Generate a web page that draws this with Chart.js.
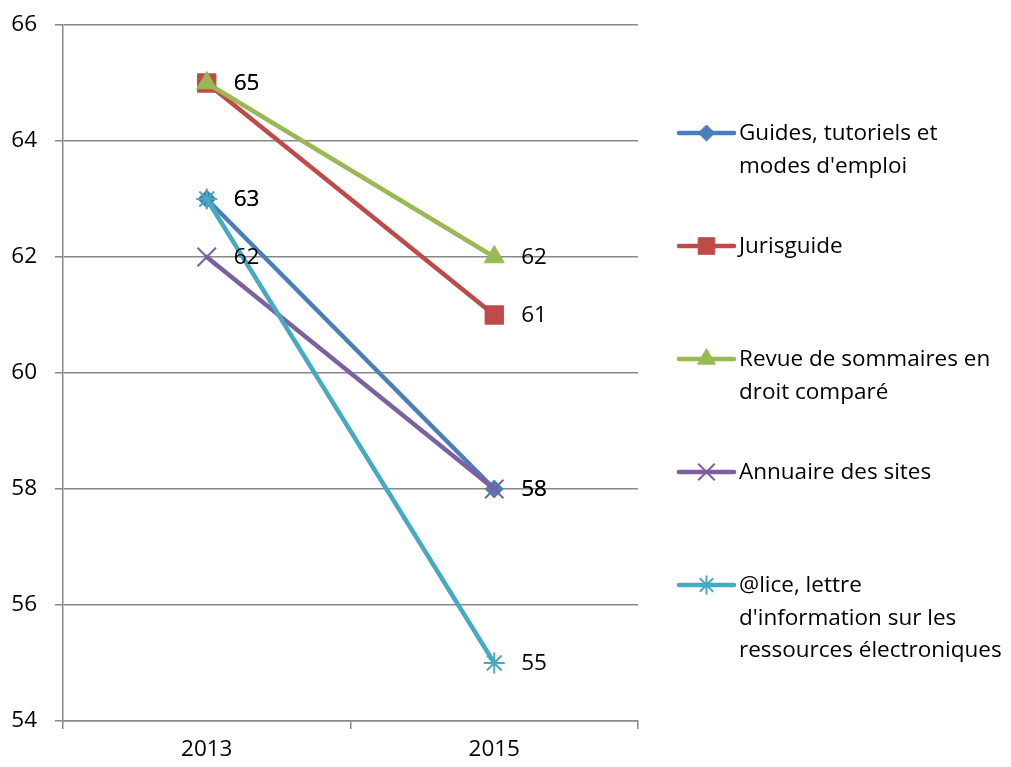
<!DOCTYPE html>
<html>
<head>
<meta charset="utf-8">
<script src="https://cdn.jsdelivr.net/npm/chart.js@4"></script>
<style>
  html, body { margin: 0; padding: 0; background: #fff; }
  #wrap { position: relative; width: 1011px; height: 767px; }
</style>
</head>
<body>
<div id="wrap">
  <canvas id="canvas" width="1011" height="767"></canvas>
</div>
<script>
// categories and series
const years = ['2013', '2015'];
const seriesNames = [
  ['Guides, tutoriels et', "modes d'emploi"],
  ['Jurisguide'],
  ['Revue de sommaires en', 'droit comparé'],
  ['Annuaire des sites'],
  ['@lice, lettre', "d'information sur les", 'ressources électroniques']
];
const guidesValues = [63, 58];
const jurisguideValues = [65, 61];
const revueValues = [65, 62];
const annuaireValues = [62, 58];
const aliceValues = [63, 55];
const yTicks = [54, 56, 58, 60, 62, 64, 66];

const FONT = '"Open Sans", Lato, sans-serif';
const FONT_SIZE = 22.5;
const TEXT = '#000';

const seriesValues = [guidesValues, jurisguideValues, revueValues, annuaireValues, aliceValues];
const seriesColors = ['#4A7EBB', '#BE4B48', '#98B954', '#7D60A0', '#46AAC5'];
const seriesMarkers = [
  {style: 'rectRot', radius: 9, border: 1},
  {style: 'rect', radius: 13, border: 1},
  {style: 'triangle', radius: 11.5, border: 1},
  {style: 'crossRot', radius: 13, border: 2},
  {style: 'star', radius: 10.5, border: 2}
];

const datasets = seriesValues.map((vals, i) => ({
  label: seriesNames[i].join(' '),
  data: vals,
  order: -i,
  borderColor: seriesColors[i],
  backgroundColor: seriesColors[i],
  borderWidth: 4.5,
  borderCapStyle: 'round',
  borderJoinStyle: 'round',
  pointStyle: seriesMarkers[i].style,
  pointRadius: seriesMarkers[i].radius,
  pointBorderWidth: seriesMarkers[i].border,
  pointBackgroundColor: seriesColors[i],
  pointBorderColor: seriesColors[i]
}));

// value printed to the right of every point
const valueLabels = {
  id: 'valueLabels',
  afterDatasetsDraw(chart) {
    const ctx = chart.ctx;
    ctx.save();
    ctx.font = FONT_SIZE + 'px ' + FONT;
    ctx.fillStyle = TEXT;
    ctx.textAlign = 'left';
    ctx.textBaseline = 'middle';
    chart.data.datasets.forEach((ds, di) => {
      chart.getDatasetMeta(di).data.forEach((pt, i) => {
        ctx.fillText(String(ds.data[i]), pt.x + 27, pt.y + 1);
      });
    });
    ctx.restore();
  }
};

// legend on the right, wrapped names, line + marker swatch
const sideLegend = {
  id: 'sideLegend',
  afterDraw(chart) {
    const ctx = chart.ctx;
    const x0 = 679, x1 = 734, textX = 739;
    const firstY = 133, step = 113, lineH = 32.5;
    ctx.save();
    chart.data.datasets.forEach((ds, i) => {
      const y = firstY + i * step;
      ctx.strokeStyle = ds.borderColor;
      ctx.lineWidth = 4.5;
      ctx.lineCap = 'round';
      ctx.beginPath();
      ctx.moveTo(x0, y);
      ctx.lineTo(x1, y);
      ctx.stroke();
      ctx.fillStyle = ds.pointBackgroundColor;
      ctx.strokeStyle = ds.pointBorderColor;
      ctx.lineWidth = ds.pointBorderWidth;
      ctx.lineCap = 'butt';
      Chart.helpers.drawPoint(ctx, {
        pointStyle: ds.pointStyle,
        radius: ds.pointRadius * 0.9,
        rotation: 0,
        borderWidth: ds.pointBorderWidth
      }, (x0 + x1) / 2, y);
      ctx.font = FONT_SIZE + 'px ' + FONT;
      ctx.fillStyle = TEXT;
      ctx.textAlign = 'left';
      ctx.textBaseline = 'middle';
      seriesNames[i].forEach((line, k) => {
        ctx.fillText(line, textX, y + 1 + k * lineH);
      });
    });
    ctx.restore();
  }
};

new Chart(document.getElementById('canvas'), {
  type: 'line',
  data: { labels: years, datasets: datasets },
  options: {
    responsive: false,
    animation: false,
    layout: { padding: { top: 25, right: 373, left: 0, bottom: 0 } },
    plugins: {
      legend: { display: false },
      tooltip: { enabled: false }
    },
    scales: {
      x: {
        offset: true,
        grid: {
          offset: true,
          drawOnChartArea: false,
          drawTicks: true,
          tickLength: 8,
          color: '#888',
          lineWidth: 1.5
        },
        border: { display: true, color: '#888', width: 1.5 },
        ticks: { color: TEXT, font: { family: FONT, size: FONT_SIZE }, padding: 7 },
        afterFit(scale) { scale.height = 46; }
      },
      y: {
        min: 54,
        max: 66,
        afterBuildTicks(scale) { scale.ticks = yTicks.map(v => ({ value: v })); },
        grid: { color: '#888', lineWidth: 1.5, tickLength: 8 },
        border: { display: true, color: '#888', width: 1.5 },
        ticks: { color: TEXT, font: { family: FONT, size: FONT_SIZE }, padding: 18 },
        afterFit(scale) {
          scale.width = 63;
          // the layout padding already leaves room for the end labels
          scale.paddingTop = 0;
          scale.paddingBottom = 0;
        }
      }
    }
  },
  plugins: [valueLabels, sideLegend]
});
</script>
</body>
</html>
